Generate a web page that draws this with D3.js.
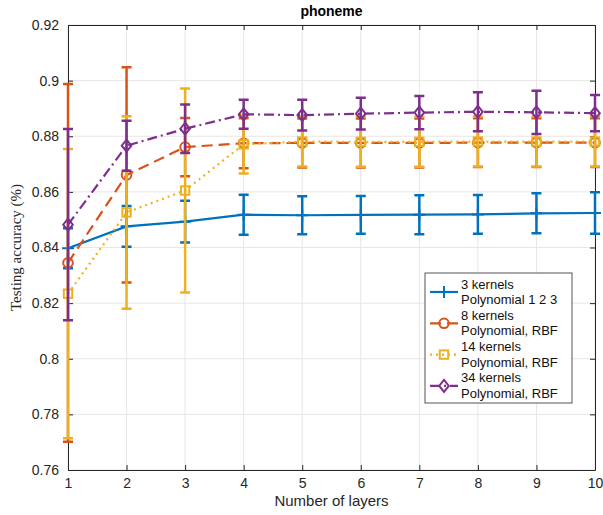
<!DOCTYPE html>
<html>
<head>
<meta charset="utf-8">
<script src="https://cdn.jsdelivr.net/npm/d3@7"></script>
<style>
  body { margin: 0; background: #fff; }
  text { font-family: "Liberation Sans", Arial, sans-serif; }
</style>
</head>
<body>
<div class="chart"></div>
<script>
// Layer counts on the x axis
var layers = [1, 2, 3, 4, 5, 6, 7, 8, 9, 10];

// Mean testing accuracy per series
var acc3 = [0.8397, 0.8476, 0.8493, 0.8518, 0.8516, 0.8517, 0.8518, 0.8519, 0.8523, 0.8524];
var acc8 = [0.8345, 0.8661, 0.8761, 0.8775, 0.8776, 0.8776, 0.8776, 0.8777, 0.8777, 0.8777];
var acc14 = [0.8234, 0.8526, 0.8605, 0.8771, 0.8781, 0.8780, 0.8780, 0.8781, 0.8781, 0.8781];
var acc34 = [0.8482, 0.8766, 0.8827, 0.8879, 0.8876, 0.8881, 0.8885, 0.8888, 0.8886, 0.8883];

// Error bar half-lengths
var err3 = [0.0072, 0.0073, 0.0075, 0.0072, 0.0068, 0.0068, 0.0070, 0.0070, 0.0072, 0.0075];
var err8 = [0.0643, 0.0387, 0.0105, 0.0090, 0.0088, 0.0088, 0.0088, 0.0088, 0.0088, 0.0088];
var err14 = [0.0520, 0.0346, 0.0367, 0.0105, 0.0090, 0.0090, 0.0090, 0.0090, 0.0090, 0.0090];
var err34 = [0.0344, 0.0090, 0.0087, 0.0052, 0.0055, 0.0057, 0.0060, 0.0070, 0.0078, 0.0065];

var legendLines = [
    ["3 kernels", "Polynomial 1 2 3"],
    ["8 kernels", "Polynomial, RBF"],
    ["14 kernels", "Polynomial, RBF"],
    ["34 kernels", "Polynomial, RBF"]
];
var yTicks = [0.76, 0.78, 0.8, 0.82, 0.84, 0.86, 0.88, 0.9, 0.92];

var W = 603, H = 515;
var mLeft = 68, mRight = 595, mTop = 25, mBottom = 470;

var svg = d3.select(".chart").append("svg")
    .attr("width", W)
    .attr("height", H);

var x = d3.scaleLinear().domain([1, 10]).range([mLeft, mRight]);
var y = d3.scaleLinear().domain([0.76, 0.92]).range([mBottom, mTop]);

// grid
svg.append("g").selectAll("line").data(layers).enter().append("line")
    .attr("x1", d => x(d)).attr("x2", d => x(d))
    .attr("y1", mTop).attr("y2", mBottom)
    .attr("stroke", "#e6e6e6").attr("stroke-width", 1);
svg.append("g").selectAll("line").data(yTicks).enter().append("line")
    .attr("x1", mLeft).attr("x2", mRight)
    .attr("y1", d => y(d)).attr("y2", d => y(d))
    .attr("stroke", "#e6e6e6").attr("stroke-width", 1);

// axes (MATLAB style, ticks inside, box on)
function styleAxis(g) {
    g.select(".domain").attr("stroke", "#262626");
    g.selectAll(".tick line").attr("stroke", "#262626");
    g.selectAll(".tick text").attr("fill", "#262626")
        .style("font-size", "14px").style("font-family", "Liberation Sans, Arial, sans-serif");
}
svg.append("g").attr("transform", "translate(0," + mBottom + ")")
    .call(d3.axisBottom(x).tickValues(layers).tickFormat(d3.format("d")).tickSizeInner(-5).tickSizeOuter(0).tickPadding(8))
    .call(styleAxis);
svg.append("g").attr("transform", "translate(0," + mTop + ")")
    .call(d3.axisTop(x).tickValues(layers).tickFormat("").tickSizeInner(-5).tickSizeOuter(0))
    .call(styleAxis);
svg.append("g").attr("transform", "translate(" + mLeft + ",0)")
    .call(d3.axisLeft(y).tickValues(yTicks).tickFormat(d => String(+d.toFixed(2))).tickSizeInner(-5).tickSizeOuter(0).tickPadding(9))
    .call(styleAxis);
svg.append("g").attr("transform", "translate(" + mRight + ",0)")
    .call(d3.axisRight(y).tickValues(yTicks).tickFormat("").tickSizeInner(-5).tickSizeOuter(0))
    .call(styleAxis);

var series = [
    { mean: acc3, err: err3, color: "#0072BD", dash: null, marker: "plus" },
    { mean: acc8, err: err8, color: "#D95319", dash: "11,6", marker: "circle" },
    { mean: acc14, err: err14, color: "#EDB120", dash: "2,4", marker: "square" },
    { mean: acc34, err: err34, color: "#7E2F8E", dash: "10,4,2,4", marker: "diamond" }
];

function drawMarker(g, type, cx, cy, color, size) {
    var s = size;
    if (type === "plus") {
        g.append("path").attr("d", "M" + (cx - s) + "," + cy + "H" + (cx + s) + "M" + cx + "," + (cy - s) + "V" + (cy + s))
            .attr("stroke", color).attr("stroke-width", 2).attr("fill", "none");
    } else if (type === "circle") {
        g.append("circle").attr("cx", cx).attr("cy", cy).attr("r", s * 0.8)
            .attr("stroke", color).attr("stroke-width", 2).attr("fill", "none");
    } else if (type === "square") {
        g.append("rect").attr("x", cx - s * 0.7).attr("y", cy - s * 0.7)
            .attr("width", s * 1.4).attr("height", s * 1.4)
            .attr("stroke", color).attr("stroke-width", 2).attr("fill", "none");
    } else {
        g.append("path").attr("d", "M" + cx + "," + (cy - s) + "L" + (cx + s * 0.8) + "," + cy + "L" + cx + "," + (cy + s) + "L" + (cx - s * 0.8) + "," + cy + "Z")
            .attr("stroke", color).attr("stroke-width", 2).attr("fill", "none");
    }
}

var line = d3.line().x(d => x(d[0])).y(d => y(d[1]));

series.forEach(function (s) {
    var g = svg.append("g");
    var pts = layers.map((l, i) => [l, s.mean[i]]);
    // error bars
    layers.forEach(function (l, i) {
        var lo = y(s.mean[i] - s.err[i]), hi = y(s.mean[i] + s.err[i]);
        g.append("path")
            .attr("d", "M" + x(l) + "," + lo + "V" + hi +
                "M" + (x(l) - 5) + "," + lo + "H" + (x(l) + 5) +
                "M" + (x(l) - 5) + "," + hi + "H" + (x(l) + 5))
            .attr("stroke", s.color).attr("stroke-width", 2.5).attr("fill", "none");
    });
    g.append("path").datum(pts).attr("d", line)
        .attr("fill", "none").attr("stroke", s.color).attr("stroke-width", 2.2)
        .attr("stroke-dasharray", s.dash);
    pts.forEach(function (p) { drawMarker(g, s.marker, x(p[0]), y(p[1]), s.color, 6); });
});

// title and labels
svg.append("text").attr("x", (mLeft + mRight) / 2).attr("y", 16).attr("text-anchor", "middle")
    .style("font-size", "14px").style("font-weight", "bold").text("phoneme");
svg.append("text").attr("x", (mLeft + mRight) / 2).attr("y", 506).attr("text-anchor", "middle")
    .style("font-size", "15px").attr("fill", "#262626").text("Number of layers");
svg.append("text").attr("transform", "translate(21," + ((mTop + mBottom) / 2) + ") rotate(-90)")
    .attr("text-anchor", "middle").style("font-size", "15px")
    .style("font-family", "Liberation Serif, DejaVu Serif, serif").attr("fill", "#262626")
    .text("Testing accuracy (%)");

// legend
var lg = svg.append("g");
lg.append("rect").attr("x", 425).attr("y", 273).attr("width", 147).attr("height", 130)
    .attr("fill", "#fff").attr("stroke", "#555").attr("stroke-width", 1);
series.forEach(function (s, i) {
    var yl = 292 + i * 31.3;
    lg.append("path").attr("d", "M430," + yl + "H458")
        .attr("stroke", s.color).attr("stroke-width", 2.2).attr("stroke-dasharray", s.dash);
    drawMarker(lg, s.marker, 444, yl, s.color, 6);
    legendLines[i].forEach(function (t, j) {
        lg.append("text").attr("x", 461).attr("y", yl - 3.5 + j * 15.6)
            .style("font-size", "13px").attr("fill", "#111").text(t);
    });
});
</script>
</body>
</html>
